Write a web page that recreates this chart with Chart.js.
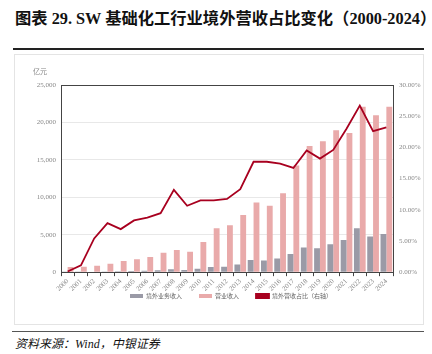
<!DOCTYPE html>
<html>
<head>
<meta charset="utf-8">
<script src="https://cdn.jsdelivr.net/npm/chart.js@4.4.1/dist/chart.umd.min.js"></script>
<style>
  body { margin: 0; width: 432px; height: 354px; background: #fff; position: relative; overflow: hidden;
         font-family: "Liberation Serif", "Noto Sans CJK SC", serif; }
  #title { position: absolute; left: 15px; top: 11px; font-size: 16.3px; line-height: 16px; font-weight: bold; color: #111; white-space: nowrap; }
  #topRule { position: absolute; left: 13px; top: 48px; width: 411px; border-top: 2px solid #222; }
  #frame { position: absolute; left: 14px; top: 54px; width: 408px; height: 269px; border: 1px solid #e4e4e4; }
  #chartBox { position: absolute; left: 14px; top: 54px; width: 410px; height: 270px; }
  #unit { position: absolute; left: 33px; top: 66px; font-size: 7px; color: #888; font-family: "Noto Sans CJK SC"; }
  #bottomRule { position: absolute; left: 12px; top: 331px; width: 412px; border-top: 1.5px solid #555; }
  #source { position: absolute; left: 15px; top: 337px; font-size: 12px; line-height: 14px; font-style: italic; color: #111; }
</style>
</head>
<body>
<div id="title">图表 29. SW 基础化工行业境外营收占比变化（2000-2024）</div>
<div id="topRule"></div>
<div id="frame"></div>
<div id="chartBox"><canvas id="chart"></canvas></div>
<div id="unit">亿元</div>
<div id="bottomRule"></div>
<div id="source">资料来源：Wind，中银证券</div>
<script>
// values
const years = ['2000', '2001', '2002', '2003', '2004', '2005', '2006', '2007', '2008', '2009', '2010', '2011', '2012',
               '2013', '2014', '2015', '2016', '2017', '2018', '2019', '2020', '2021', '2022', '2023', '2024'];
const overseasRevenue = [5, 10, 46, 88, 105, 145, 180, 250, 390, 290, 465, 675, 735,
                         1030, 1640, 1570, 1840, 2420, 3300, 3180, 3730, 4290, 5870, 4750, 5110];
const totalRevenue = [700, 720, 850, 1120, 1500, 1720, 2020, 2600, 2960, 2730, 4030, 5870, 6270,
                      7620, 9320, 8870, 10530, 14250, 16850, 17470, 18950, 18590, 22090, 20970, 22090];
const overseasShare = [0.1, 1.1, 5.4, 7.85, 6.9, 8.3, 8.75, 9.45, 13.2, 10.65, 11.5, 11.5, 11.75,
                       13.3, 17.7, 17.7, 17.4, 16.7, 19.5, 18.2, 19.6, 23.0, 26.7, 22.6, 23.2];

const labelFont = { family: '"Liberation Serif", "Noto Sans CJK SC", serif', size: 7 };
const axisColor = '#444';
const tickColor = '#888';
const legendShiftX = 12;   // legend sits a bit right of the canvas centre
const legendItemTop = 239; // where the legend row should start inside the canvas

// top border of the plot, legend placement and a box round the legend
const frameLines = {
    id: 'frameLines',
    afterUpdate(chart) {
        const legend = chart.legend;
        const dy = legendItemTop - legend.legendHitBoxes[0].top;
        legend.left += legendShiftX;
        legend.right += legendShiftX;
        legend.top += dy;
        legend.bottom += dy;
        legend.adjustHitBoxes();
    },
    afterDraw(chart) {
        const { ctx, chartArea: a, legend } = chart;
        ctx.save();
        ctx.strokeStyle = axisColor;
        ctx.lineWidth = 1;
        ctx.beginPath();
        ctx.moveTo(a.left, a.top + 0.5);
        ctx.lineTo(a.right, a.top + 0.5);
        ctx.stroke();

        const boxes = legend.legendHitBoxes;
        if (boxes && boxes.length) {
            const left = Math.min(...boxes.map(b => b.left)) - 12;
            const right = Math.max(...boxes.map(b => b.left + b.width)) + 11;
            const top = Math.min(...boxes.map(b => b.top)) - 3;
            const bottom = Math.max(...boxes.map(b => b.top + b.height)) + 3;
            ctx.strokeStyle = '#555';
            ctx.strokeRect(Math.round(left) + 0.5, Math.round(top) + 0.5, Math.round(right - left), Math.round(bottom - top));
        }
        ctx.restore();
    }
};

new Chart(document.getElementById('chart'), {
    type: 'bar',
    data: {
        labels: years,
        datasets: [
            {
                label: '境外业务收入',
                data: overseasRevenue,
                backgroundColor: '#9a9aa6',
                yAxisID: 'y',
                order: 1,
                barPercentage: 1,
                categoryPercentage: 0.88
            },
            {
                label: '营业收入',
                data: totalRevenue,
                backgroundColor: '#e9aaaa',
                yAxisID: 'y',
                order: 1,
                barPercentage: 1,
                categoryPercentage: 0.88
            },
            {
                type: 'line',
                label: '境外营收占比（右轴）',
                data: overseasShare,
                borderColor: '#a8001f',
                backgroundColor: '#a8001f',
                borderWidth: 1.8,
                pointRadius: 0,
                tension: 0,
                yAxisID: 'y1',
                order: 0
            }
        ]
    },
    options: {
        responsive: true,
        maintainAspectRatio: false,
        animation: false,
        layout: { padding: { top: 31, left: 0, right: 0, bottom: -3 } },
        plugins: {
            tooltip: { enabled: false },
            legend: {
                position: 'bottom',
                labels: {
                    boxWidth: 13,
                    boxHeight: 4,
                    padding: 17,
                    color: '#666',
                    font: { family: '"Noto Sans CJK SC", sans-serif', size: 6 },
                    sort: (a, b) => a.datasetIndex - b.datasetIndex
                }
            }
        },
        scales: {
            x: {
                grid: { offset: true, drawOnChartArea: false, tickLength: 4, color: axisColor },
                border: { color: axisColor },
                ticks: { autoSkip: false, minRotation: 45, maxRotation: 45, padding: 1, color: tickColor, font: labelFont }
            },
            y: {
                position: 'left',
                min: 0,
                max: 25000,
                ticks: {
                    stepSize: 5000,
                    padding: 5,
                    color: tickColor,
                    font: labelFont,
                    callback: v => v.toLocaleString('en-US')
                },
                grid: { color: '#e8e8e8', drawTicks: false },
                border: { color: axisColor },
                afterFit(scale) { scale.width = 47; }
            },
            y1: {
                position: 'right',
                min: 0,
                max: 30,
                ticks: {
                    stepSize: 5,
                    padding: 6,
                    color: tickColor,
                    font: labelFont,
                    callback: v => v.toFixed(2) + '%'
                },
                grid: { drawOnChartArea: false, drawTicks: false },
                border: { color: axisColor },
                afterFit(scale) { scale.width = 31; }
            }
        }
    },
    plugins: [frameLines]
});
</script>
</body>
</html>
